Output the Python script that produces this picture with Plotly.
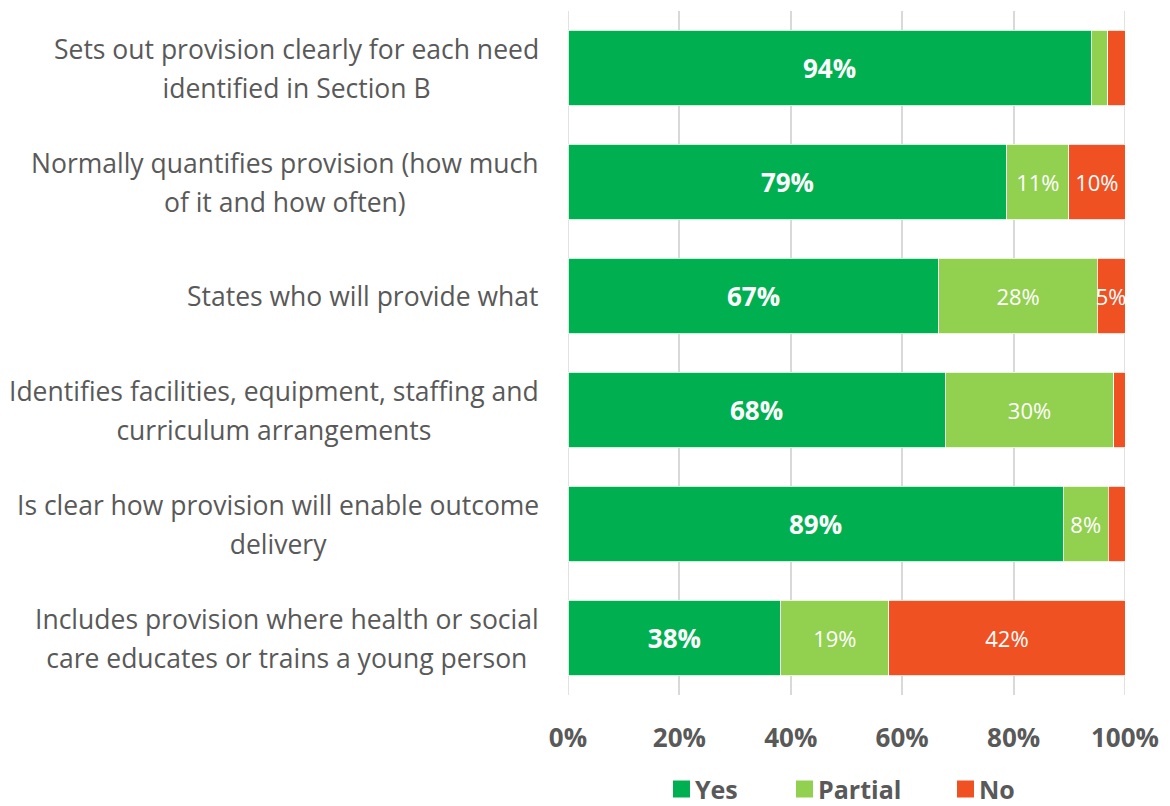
import plotly.graph_objects as go

# Survey items (top to bottom) and the share of plans in each rating band (%)
items = [
    "Sets out provision clearly for each need<br>identified in Section B",
    "Normally quantifies provision (how much<br>of it and how often)",
    "States who will provide what",
    "Identifies facilities, equipment, staffing and<br>curriculum arrangements",
    "Is clear how provision will enable outcome<br>delivery",
    "Includes provision where health or social<br>care educates or trains a young person",
]
yes_pct = [93.9, 78.8, 66.6, 67.7, 88.9, 38.2]
partial_pct = [3.0, 11.1, 28.4, 30.3, 8.1, 19.4]
no_pct = [3.1, 10.1, 5.0, 2.0, 3.0, 42.4]
x_ticks = [0, 20, 40, 60, 80, 100]

FONT = "Open Sans"
GREY = "#595959"
GRID = "#D9D9D9"
W, H = 1170, 806
M_L, M_R, M_T, M_B = 568, 45, 11, 111
cats = [f"c{i}" for i in range(len(items))]


def labels(values, min_show=5):
    return [f"{v:.0f}%" if v >= min_show else "" for v in values]


def px_to_paper(px, py):
    """Figure pixel position -> paper coordinates of the plot area."""
    pw, ph = W - M_L - M_R, H - M_T - M_B
    return (px - M_L) / pw, (H - M_B - py) / ph


fig = go.Figure()
series = [
    ("Yes", yes_pct, "#00B050", "bold", 26),
    ("Partial", partial_pct, "#92D050", "normal", 22),
    ("No", no_pct, "#F05123", "normal", 22),
]
for name, vals, color, weight, size in series:
    fig.add_trace(go.Bar(
        name=name, y=cats, x=vals, orientation="h",
        marker=dict(color=color, line=dict(color="white", width=0.8)),
        text=labels(vals), textposition="inside", insidetextanchor="middle",
        textangle=0, constraintext="none",
        textfont=dict(family=FONT, size=size, color="white", weight=weight),
        hoverinfo="skip", showlegend=False,
    ))

# Category labels: centred lines, right-aligned block left of the bars
for cat, label in zip(cats, items):
    lines = label.split("<br>")
    txt = "<br>".join(f"<span style='font-size:26.5px'>{ln}</span>" for ln in lines)
    fig.add_annotation(
        x=0, xref="paper", xanchor="right", xshift=-27,
        y=cat, yref="y", yanchor="middle",
        text=txt, align="center", showarrow=False,
        font=dict(family=FONT, size=30, color=GREY),
    )

# Outer gridlines at 0% and 100%
for xv in (x_ticks[0], x_ticks[-1]):
    fig.add_shape(type="line", x0=xv, x1=xv, xref="x", y0=0, y1=1, yref="paper",
                  line=dict(color=GRID, width=1.5), layer="below")

# Legend row under the axis: swatch + bold label for each series
legend_x = [673, 796, 957]  # left edge of each swatch, px
legend_y = 789              # row centre, px
swatch = 17
for (name, _, color, _, _), lx in zip(series, legend_x):
    x0, y0 = px_to_paper(lx, legend_y + swatch / 2)
    x1, y1 = px_to_paper(lx + swatch, legend_y - swatch / 2)
    fig.add_shape(type="rect", xref="paper", yref="paper",
                  x0=x0, x1=x1, y0=y0, y1=y1,
                  fillcolor=color, line=dict(width=0))
    tx, ty = px_to_paper(lx + swatch + 4, legend_y)
    fig.add_annotation(
        x=tx, y=ty, xref="paper", yref="paper", xanchor="left", yanchor="middle",
        text=name, showarrow=False, borderpad=0,
        font=dict(family=FONT, size=25, color=GREY, weight="bold"),
    )

fig.update_layout(
    width=W, height=H,
    margin=dict(l=M_L, r=M_R, t=M_T, b=M_B, autoexpand=False),
    barmode="stack", bargap=0.34,
    plot_bgcolor="white", paper_bgcolor="white",
    font=dict(family=FONT, color=GREY),
    showlegend=False,
)
fig.update_xaxes(
    range=[0, 100], tickvals=x_ticks, ticktext=[f"{v}%" for v in x_ticks],
    showgrid=True, gridcolor=GRID, gridwidth=1.5,
    zeroline=False, showline=False, ticks="",
    ticklabelstandoff=25, automargin=False,
    tickfont=dict(family=FONT, size=26, color=GREY, weight="bold"),
)
fig.update_yaxes(
    categoryorder="array", categoryarray=cats, autorange="reversed",
    showticklabels=False, showgrid=False, zeroline=False, ticks="",
)

fig.write_html("out.html")
